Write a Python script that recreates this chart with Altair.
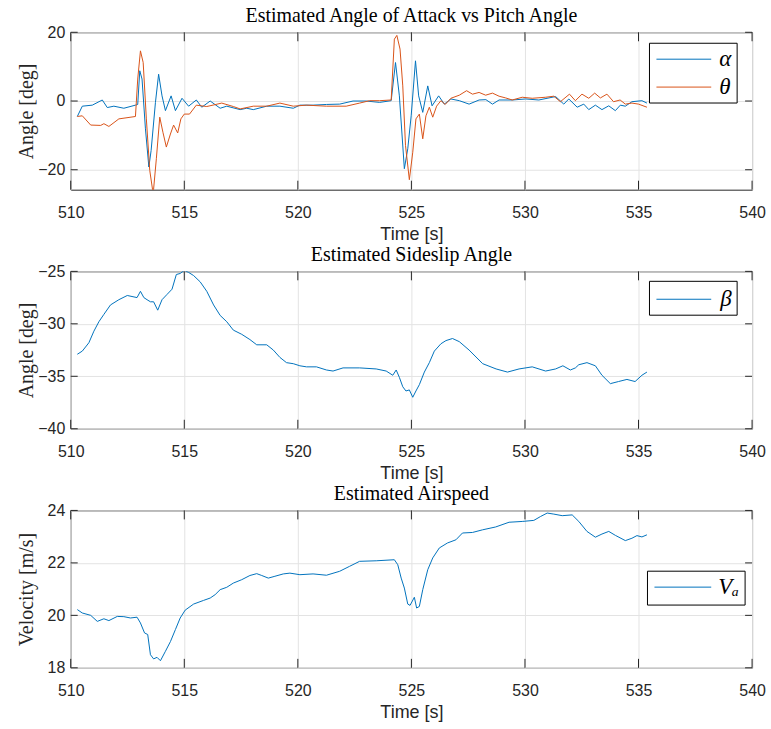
import altair as alt
import pandas as pd

# ---------------- data ----------------
alpha_t = [510.29, 510.51, 510.95, 511.39, 511.61, 511.90, 512.34, 512.85, 512.95, 513.04, 513.14,
           513.29, 513.44, 513.54, 513.73, 513.87, 514.02, 514.17, 514.42, 514.61, 514.90, 515.19,
           515.53, 515.77, 516.14, 516.58, 516.87, 517.46, 517.75, 518.04, 518.63, 519.21, 519.80,
           520.09, 520.67, 521.26, 521.84, 522.43, 523.01, 523.60, 524.11, 524.30, 524.47, 524.69,
           524.84, 524.99, 525.18, 525.32, 525.50, 525.72, 525.91, 526.20, 526.45, 526.74, 527.11,
           527.54, 527.98, 528.28, 528.57, 528.86, 529.45, 530.03, 530.61, 531.35, 531.71, 531.93,
           532.30, 532.59, 532.81, 533.10, 533.39, 533.69, 533.98, 534.20, 534.42, 534.71, 535.15,
           535.37]
alpha_v = [-4.5, -1.5, -1.2, 0.3, -1.9, -1.5, -2.1, -1.2, -1.0, 8.8, 6.4,
           -8.1, -19.2, -14.4, -0.4, 7.8, 1.5, -2.8, 1.5, -2.8, 0.8, -1.5,
           0.3, -1.8, 0.0, -2.1, -1.5, -2.5, -2.1, -2.5, -1.5, -1.5, -2.1,
           -1.2, -1.2, -1.0, -0.9, 0.0, 0.0, -0.4, 0.1, 11.2, 1.5, -19.7,
           -13.9, -4.3, 11.7, 1.5, -3.3, 4.4, -1.4, 1.5, -0.9, 0.6, 0.1,
           -0.9, 0.3, 0.4, -0.9, 0.3, 0.3, 0.6, 0.3, 1.3, -0.9, 0.6,
           -1.8, -0.9, -2.5, -1.2, -2.5, -1.4, -2.8, -1.2, -1.5, -0.2, 0.1,
           -0.6]

theta_t = [510.29, 510.51, 510.88, 511.32, 511.46, 511.68, 512.12, 512.85, 512.95, 513.07, 513.19,
           513.33, 513.48, 513.63, 513.77, 513.92, 514.06, 514.21, 514.39, 514.53, 514.71, 514.85,
           515.00, 515.23, 515.53, 515.99, 516.65, 517.16, 517.46, 518.04, 518.63, 519.21, 519.80,
           520.38, 521.26, 522.13, 522.72, 523.16, 523.60, 524.11, 524.25, 524.36, 524.50, 524.62,
           524.74, 524.91, 525.06, 525.20, 525.35, 525.50, 525.64, 525.79, 525.94, 526.11, 526.30,
           526.49, 526.74, 527.11, 527.43, 527.69, 527.98, 528.27, 528.57, 528.86, 529.15, 529.44,
           529.88, 530.32, 530.91, 531.27, 531.56, 531.96, 532.22, 532.51, 532.81, 533.07, 533.32,
           533.61, 533.90, 534.19, 534.42, 534.71, 535.00, 535.37]
theta_v = [-4.5, -4.3, -7.0, -7.1, -6.6, -7.4, -5.2, -4.5, 6.4, 14.6, 11.2,
           -5.2, -20.2, -27.0, -16.8, -4.7, -9.1, -13.4, -9.6, -7.0, -9.3, -5.2,
           -3.8, -3.8, -1.2, -1.6, -0.6, -1.6, -2.3, -1.5, -1.5, -0.6, -1.5,
           -1.2, -1.5, -1.5, -0.6, 0.1, 0.1, 0.3, 18.0, 19.1, 15.1, 4.4,
           -12.9, -22.9, -14.9, -5.2, -3.8, -11.0, -4.3, -1.8, -4.7, -1.5, 0.1,
           -1.0, 0.8, 1.7, 3.0, 2.0, 2.5, 1.7, 2.3, 1.4, 0.9, 0.3,
           1.1, 0.8, 1.1, 1.4, -0.2, 2.0, 0.1, 2.0, 0.8, 2.3, 0.9,
           2.0, -0.2, 0.3, -0.9, -0.6, -0.9, -1.8]

beta_t = [510.29, 510.51, 510.80, 511.02, 511.24, 511.46, 511.75, 512.12, 512.49, 512.92, 513.07,
          513.22, 513.36, 513.51, 513.65, 513.83, 514.02, 514.24, 514.46, 514.65, 514.82, 515.00,
          515.19, 515.41, 515.70, 515.99, 516.29, 516.58, 516.87, 517.16, 517.53, 517.89, 518.19,
          518.63, 518.92, 519.21, 519.50, 519.80, 520.09, 520.38, 520.82, 521.26, 521.55, 521.99,
          522.72, 523.45, 523.89, 524.18, 524.33, 524.47, 524.62, 524.76, 524.91, 525.06, 525.20,
          525.35, 525.57, 525.79, 526.01, 526.30, 526.52, 526.81, 527.11, 527.54, 528.14, 528.73,
          529.23, 529.74, 530.32, 530.91, 531.35, 531.67, 532.00, 532.22, 532.37, 532.73, 533.10,
          533.39, 533.76, 534.12, 534.49, 534.85, 535.15, 535.37]
beta_v = [-32.9, -32.6, -31.8, -30.7, -29.8, -29.1, -28.2, -27.7, -27.3, -27.5, -26.9,
          -27.5, -27.7, -27.9, -27.9, -28.7, -27.7, -27.2, -26.7, -25.3, -25.2, -24.9,
          -25.1, -25.4, -26.0, -26.9, -28.2, -29.2, -29.8, -30.6, -31.0, -31.5, -32.0,
          -32.0, -32.5, -33.2, -33.7, -33.8, -34.0, -34.1, -34.1, -34.4, -34.5, -34.2,
          -34.2, -34.3, -34.5, -34.9, -34.4, -35.1, -36.0, -36.4, -36.3, -37.0, -36.4,
          -35.8, -34.6, -33.7, -32.6, -31.9, -31.6, -31.4, -31.7, -32.5, -33.8, -34.3,
          -34.6, -34.3, -34.1, -34.5, -34.3, -34.0, -34.4, -34.2, -33.9, -33.7, -34.0,
          -34.9, -35.7, -35.5, -35.3, -35.5, -34.9, -34.6]

va_t = [510.29, 510.51, 510.88, 511.17, 511.46, 511.68, 512.05, 512.34, 512.63, 512.92, 513.07,
        513.25, 513.39, 513.51, 513.65, 513.80, 513.95, 514.17, 514.39, 514.61, 514.82, 515.04,
        515.41, 515.85, 516.14, 516.36, 516.58, 516.87, 517.16, 517.53, 517.89, 518.19, 518.41,
        518.70, 518.99, 519.36, 519.65, 520.09, 520.67, 521.26, 521.84, 522.28, 522.72, 523.45,
        524.25, 524.40, 524.55, 524.69, 524.84, 524.94, 525.13, 525.23, 525.35, 525.50, 525.72,
        525.94, 526.23, 526.59, 526.96, 527.25, 527.69, 528.13, 528.71, 529.30, 529.88, 530.39,
        530.69, 530.98, 531.27, 531.64, 532.08, 532.37, 532.73, 533.10, 533.39, 533.69, 533.98,
        534.42, 534.71, 534.93, 535.15, 535.37]
va_v = [20.22, 20.09, 20.00, 19.77, 19.87, 19.80, 19.96, 19.95, 19.90, 19.93, 19.71,
        19.33, 19.27, 18.50, 18.34, 18.40, 18.27, 18.63, 19.00, 19.46, 19.90, 20.20,
        20.43, 20.57, 20.66, 20.79, 20.98, 21.07, 21.23, 21.36, 21.52, 21.59, 21.52,
        21.42, 21.49, 21.58, 21.61, 21.55, 21.58, 21.53, 21.68, 21.87, 22.06, 22.08,
        22.12, 21.93, 21.42, 21.04, 20.43, 20.38, 20.69, 20.28, 20.34, 20.98, 21.74,
        22.19, 22.57, 22.76, 22.88, 23.14, 23.16, 23.26, 23.37, 23.55, 23.58, 23.62,
        23.77, 23.90, 23.86, 23.80, 23.83, 23.58, 23.20, 22.98, 23.10, 23.20, 23.05,
        22.85, 22.94, 23.04, 22.99, 23.07]

x_ticks = [510, 515, 520, 525, 530, 535, 540]
y1_ticks = [-20, 0, 20]
y2_ticks = [-40, -35, -30, -25]
y3_ticks = [18, 20, 22, 24]

titles = ["Estimated Angle of Attack vs Pitch Angle", "Estimated Sideslip Angle", "Estimated Airspeed"]
y_titles = ["Angle [deg]", "Angle [deg]", "Velocity [m/s]"]
x_title = "Time [s]"
legend1 = ["α", "θ"]
legend2 = ["β"]
legend3 = ["Vₐ"]

BLUE = "#0072BD"
ORANGE = "#D95319"
AX = "#262626"
W, H = 684, 158
SANS = "Liberation Sans"
SERIF = "Liberation Serif"


def panel(series, ydom, yticks, ytitle, title, legend_box, legend_rows):
    xs = alt.Scale(domain=[510, 540], nice=False, zero=False)
    ys = alt.Scale(domain=ydom, nice=False, zero=False)
    xaxis = alt.Axis(values=x_ticks, title=x_title, labelFont=SANS, labelFontSize=16,
                     labelColor=AX, titleFont=SANS, titleFontSize=18, titleFontWeight="normal",
                     titleColor=AX, grid=True, gridColor="#e3e3e3", domain=False, ticks=False,
                     labelPadding=15, titlePadding=5, labelFlush=False)
    yaxis = alt.Axis(values=yticks, title=ytitle, labelFont=SANS, labelFontSize=16,
                     labelColor=AX, titleFont=SERIF, titleFontSize=20, titleFontWeight="normal",
                     titleColor=AX, grid=True, gridColor="#e3e3e3", domain=False, ticks=False,
                     labelPadding=6, titleX=-44, titleY=H / 2, titleBaseline="middle",
                     titleAngle=270, labelFlush=False)
    X = lambda f: alt.X(f, scale=xs, axis=xaxis)
    Y = lambda f: alt.Y(f, scale=ys, axis=yaxis)
    layers = []
    for (tt, vv, col) in series:
        df = pd.DataFrame({"t": tt, "v": vv})
        layers.append(alt.Chart(df).mark_line(color=col, strokeWidth=1, clip=True).encode(
            x=X("t:Q"), y=Y("v:Q")))
    xdf = pd.DataFrame({"t": x_ticks})
    ydf = pd.DataFrame({"v": yticks})
    TX, TY = 9, 7
    for (a, b) in [(0, TX), (H - TX, H)]:
        layers.append(alt.Chart(xdf).mark_rule(color=AX, strokeWidth=1).encode(
            x=X("t:Q"), y=alt.value(a), y2=alt.value(b)))
    for (a, b) in [(0, TY), (W - TY, W)]:
        layers.append(alt.Chart(ydf).mark_rule(color=AX, strokeWidth=1).encode(
            y=Y("v:Q"), x=alt.value(a), x2=alt.value(b)))
    one = pd.DataFrame({"k": [0]})
    bx0, bx1, by0, by1 = legend_box
    layers.append(alt.Chart(one).mark_rect(fill="white", stroke="black", strokeWidth=1).encode(
        x=alt.value(bx0), x2=alt.value(bx1), y=alt.value(by0), y2=alt.value(by1)))
    for (label, col, yy, lx0, lx1, tx) in legend_rows:
        layers.append(alt.Chart(one).mark_rule(color=col, strokeWidth=1).encode(
            x=alt.value(lx0), x2=alt.value(lx1), y=alt.value(yy)))
        layers.append(alt.Chart(one).mark_text(font=SERIF, fontStyle="italic", fontSize=23,
                                               align="left", baseline="middle", color="black").encode(
            x=alt.value(tx), y=alt.value(yy), text=alt.value(label)))
    return alt.layer(*layers).properties(
        width=W, height=H,
        title=alt.TitleParams(title, font=SERIF, fontSize=20, fontWeight="normal", color="black",
                              anchor="middle", offset=-2))


p1 = panel([(alpha_t, alpha_v, BLUE), (theta_t, theta_v, ORANGE)], [-25.8, 20], y1_ticks,
           y_titles[0], titles[0], (581, 669, 11, 71),
           [(legend1[0], BLUE, 27, 588, 643, 651), (legend1[1], ORANGE, 55, 588, 643, 651)])
p2 = panel([(beta_t, beta_v, BLUE)], [-40, -25], y2_ticks, y_titles[1], titles[1],
           (581, 669, 10, 44), [(legend2[0], BLUE, 28, 588, 643, 652)])
p3 = panel([(va_t, va_v, BLUE)], [18, 24], y3_ticks, y_titles[2], titles[2],
           (579, 677, 61, 95), [(legend3[0], BLUE, 77, 586, 643, 650)])

chart = alt.vconcat(p1, p2, p3, spacing=0).properties(
    padding={"left": 16, "top": 4, "right": 5, "bottom": 5},
    background="white",
).configure_view(stroke=AX, strokeWidth=1)

chart.save("out.html", embed_options={"renderer": "svg", "actions": False})
